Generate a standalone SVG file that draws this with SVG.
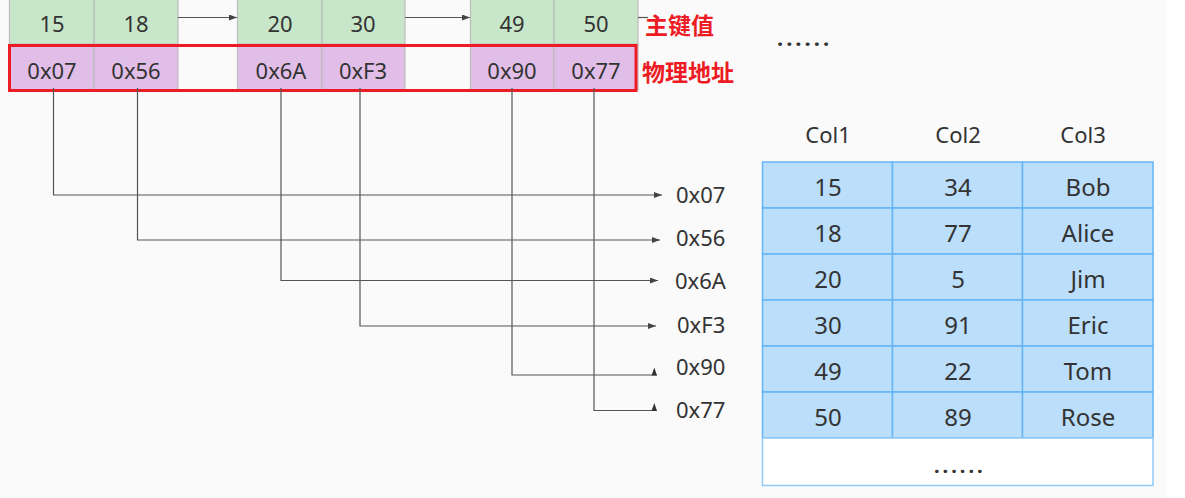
<svg xmlns="http://www.w3.org/2000/svg" width="1185" height="498" viewBox="0 0 1185 498">
<style>
.t{font-family:"Noto Sans","Open Sans","Liberation Sans",sans-serif;fill:#333;text-anchor:middle}
.c{font-size:22px}
.tb{font-size:24px}
.g{fill:#c8e6c9;stroke:#bdbdbd;stroke-width:1.2}
.p{fill:#e1bee7;stroke:#bdbdbd;stroke-width:1.2}
.b{fill:#bbdefb;stroke:#64b5f6;stroke-width:1.5}
.ln{fill:none;stroke:#555;stroke-width:1.2}
.red{font-family:"Noto Sans CJK SC","Noto Sans",sans-serif;font-size:23px;font-weight:bold;fill:#ed1c24}
.dots{font-family:"Noto Sans","Liberation Sans",sans-serif;font-size:22px;font-weight:bold;fill:#333;letter-spacing:3px}
</style>
<defs>
<marker id="ar" markerWidth="8" markerHeight="6" refX="8" refY="3" orient="auto" markerUnits="userSpaceOnUse">
<path d="M0,0 L8,3 L0,6 Z" fill="#444"/>
</marker>
</defs>
<rect x="0" y="0" width="1166" height="498" fill="#fafafa"/>
<rect x="1166" y="0" width="19" height="498" fill="#ffffff"/>

<g id="index">
<g id="k15"><rect class="g" x="9.5" y="-2" width="84.5" height="46"/><text class="t c" x="52" y="32">15</text></g>
<g id="k18"><rect class="g" x="94" y="-2" width="84" height="46"/><text class="t c" x="136" y="32">18</text></g>
<g id="k20"><rect class="g" x="237.5" y="-2" width="84.5" height="46"/><text class="t c" x="280" y="32">20</text></g>
<g id="k30"><rect class="g" x="322" y="-2" width="83" height="46"/><text class="t c" x="363" y="32">30</text></g>
<g id="k49"><rect class="g" x="470.5" y="-2" width="83.5" height="46"/><text class="t c" x="512" y="32">49</text></g>
<g id="k50"><rect class="g" x="554" y="-2" width="84" height="46"/><text class="t c" x="596" y="32">50</text></g>
<g id="a07"><rect class="p" x="9.5" y="45" width="84.5" height="45"/><text class="t c" x="52" y="79">0x07</text></g>
<g id="a56"><rect class="p" x="94" y="45" width="84" height="45"/><text class="t c" x="136" y="79">0x56</text></g>
<g id="a6A"><rect class="p" x="237.5" y="45" width="84.5" height="45"/><text class="t c" x="281" y="79">0x6A</text></g>
<g id="aF3"><rect class="p" x="322" y="45" width="83" height="45"/><text class="t c" x="363" y="79">0xF3</text></g>
<g id="a90"><rect class="p" x="470.5" y="45" width="83.5" height="45"/><text class="t c" x="512" y="79">0x90</text></g>
<g id="a77"><rect class="p" x="554" y="45" width="84" height="45"/><text class="t c" x="596" y="79">0x77</text></g>
<rect id="addr-frame" x="9.5" y="45.5" width="626.5" height="45" fill="none" stroke="#ed1c24" stroke-width="3"/>
<text id="lbl-key" class="red" x="645" y="34">主键值</text>
<text id="lbl-addr" class="red" x="642" y="81">物理地址</text>
<text id="dots-top" class="dots" x="777" y="46">......</text>
</g>

<g id="connectors">
<line class="ln" x1="178" y1="17.5" x2="237" y2="17.5" marker-end="url(#ar)"/>
<line class="ln" x1="405" y1="17.5" x2="470" y2="17.5" marker-end="url(#ar)"/>
<line class="ln" x1="638" y1="17.5" x2="648" y2="17.5" stroke="#888"/>
<polyline class="ln" points="53.5,88 53.5,195 662,195" marker-end="url(#ar)"/>
<polyline class="ln" points="137.5,88 137.5,240 660,240" marker-end="url(#ar)"/>
<polyline class="ln" points="281,88 281,280.5 658,280.5" marker-end="url(#ar)"/>
<polyline class="ln" points="360,88 360,326 656,326" marker-end="url(#ar)"/>
<polyline class="ln" points="512,88 512,375 657,375"/>
<path d="M651.5,375.6 L657,375.6 L654.3,367.5 Z" fill="#333"/>
<polyline class="ln" points="594,88 594,410.5 657,410.5"/>
<path d="M651.5,411.1 L657,411.1 L654.3,403 Z" fill="#333"/>
</g>

<g id="addr-labels">
<text class="t c" x="676" y="203" style="text-anchor:start">0x07</text>
<text class="t c" x="676" y="246" style="text-anchor:start">0x56</text>
<text class="t c" x="675" y="289" style="text-anchor:start">0x6A</text>
<text class="t c" x="677" y="333" style="text-anchor:start">0xF3</text>
<text class="t c" x="676" y="375" style="text-anchor:start">0x90</text>
<text class="t c" x="676" y="418" style="text-anchor:start">0x77</text>
</g>

<g id="table">
<text class="t c" x="828" y="143">Col1</text>
<text class="t c" x="958" y="143">Col2</text>
<text class="t c" x="1083" y="143">Col3</text>
<g id="row1"><rect class="b" x="762.5" y="162" width="130" height="46"/><rect class="b" x="892.5" y="162" width="130" height="46"/><rect class="b" x="1022.5" y="162" width="130.5" height="46"/>
<text class="t tb" x="828" y="196">15</text><text class="t tb" x="958" y="196">34</text><text class="t tb" x="1088" y="196">Bob</text></g>
<g id="row2"><rect class="b" x="762.5" y="208" width="130" height="46"/><rect class="b" x="892.5" y="208" width="130" height="46"/><rect class="b" x="1022.5" y="208" width="130.5" height="46"/>
<text class="t tb" x="828" y="242">18</text><text class="t tb" x="958" y="242">77</text><text class="t tb" x="1088" y="242">Alice</text></g>
<g id="row3"><rect class="b" x="762.5" y="254" width="130" height="46"/><rect class="b" x="892.5" y="254" width="130" height="46"/><rect class="b" x="1022.5" y="254" width="130.5" height="46"/>
<text class="t tb" x="828" y="288">20</text><text class="t tb" x="958" y="288">5</text><text class="t tb" x="1088" y="288">Jim</text></g>
<g id="row4"><rect class="b" x="762.5" y="300" width="130" height="46"/><rect class="b" x="892.5" y="300" width="130" height="46"/><rect class="b" x="1022.5" y="300" width="130.5" height="46"/>
<text class="t tb" x="828" y="334">30</text><text class="t tb" x="958" y="334">91</text><text class="t tb" x="1088" y="334">Eric</text></g>
<g id="row5"><rect class="b" x="762.5" y="346" width="130" height="46"/><rect class="b" x="892.5" y="346" width="130" height="46"/><rect class="b" x="1022.5" y="346" width="130.5" height="46"/>
<text class="t tb" x="828" y="380">49</text><text class="t tb" x="958" y="380">22</text><text class="t tb" x="1088" y="380">Tom</text></g>
<g id="row6"><rect class="b" x="762.5" y="392" width="130" height="46"/><rect class="b" x="892.5" y="392" width="130" height="46"/><rect class="b" x="1022.5" y="392" width="130.5" height="46"/>
<text class="t tb" x="828" y="426">50</text><text class="t tb" x="958" y="426">89</text><text class="t tb" x="1088" y="426">Rose</text></g>
<g id="row7"><rect x="762.5" y="438" width="390.5" height="47.5" fill="#ffffff" stroke="#90caf9" stroke-width="1.5"/>
<text class="dots" x="934" y="473" style="font-size:20px">......</text></g>
</g>
</svg>
